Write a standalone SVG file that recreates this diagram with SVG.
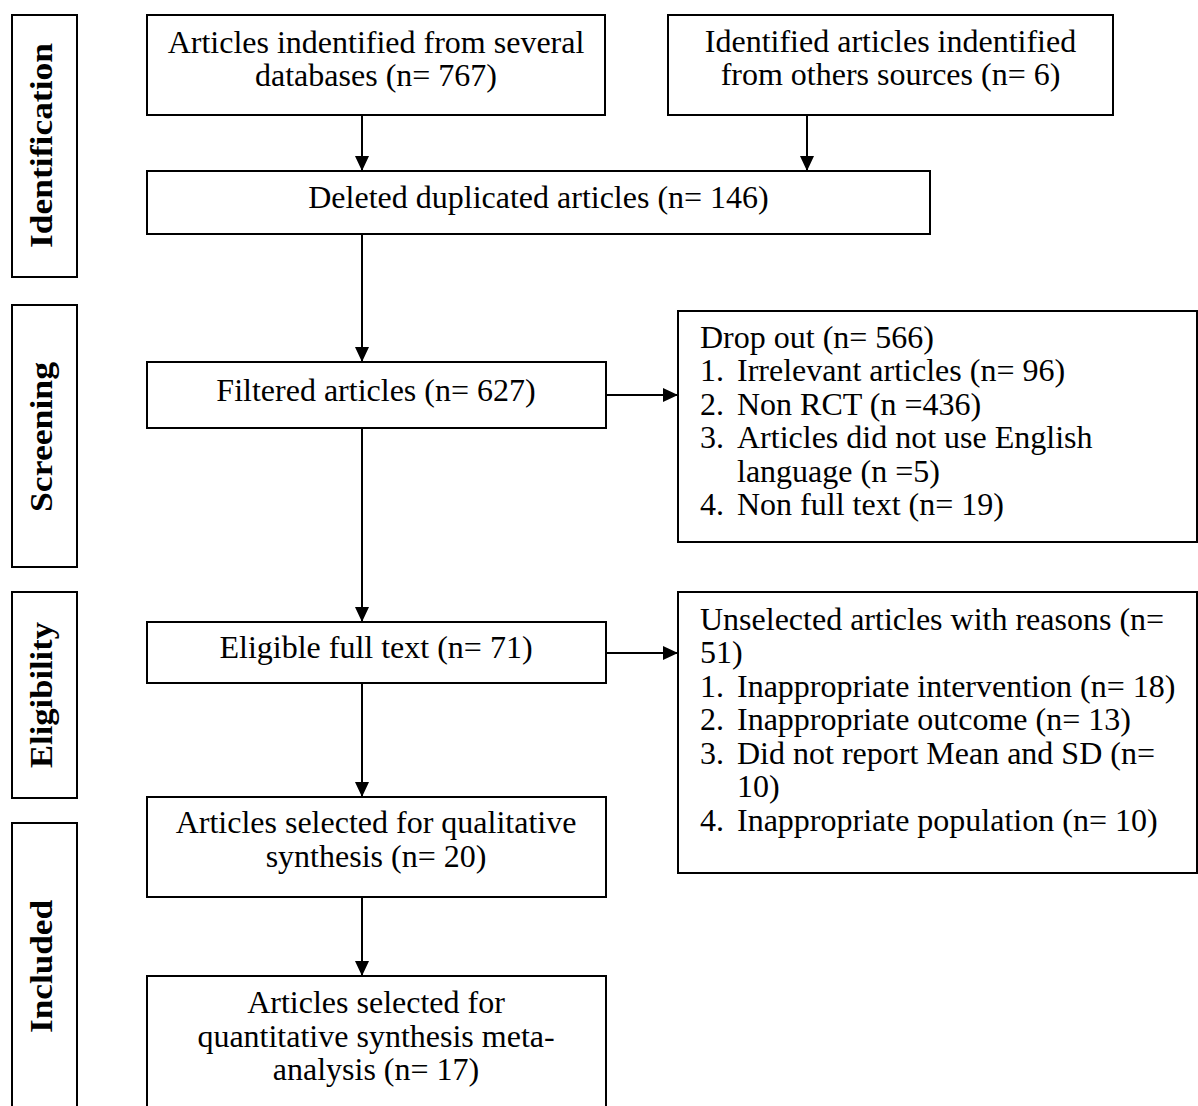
<svg xmlns="http://www.w3.org/2000/svg" width="1198" height="1106" viewBox="0 0 1198 1106">
<style>
.box{fill:#fff;stroke:#000;stroke-width:2}
.t{font-family:"Liberation Serif","Times New Roman",serif;font-size:32px;fill:#000}
.c{text-anchor:middle}
.lbl{font-family:"Liberation Serif","Times New Roman",serif;font-size:32px;font-weight:bold;fill:#000;text-anchor:middle}
.con{stroke:#000;stroke-width:2;fill:none;marker-end:url(#ah)}
</style>
<defs>
<marker id="ah" markerUnits="userSpaceOnUse" markerWidth="15" markerHeight="14" refX="15" refY="7" orient="auto">
<path d="M0,0 L15,7 L0,14 Z" fill="#000"/>
</marker>
</defs>
<rect width="1198" height="1106" fill="#fff"/>

<g id="stage-identification">
<rect class="box" x="12" y="15" width="65" height="262"/>
<text class="lbl" transform="translate(52,145.5) rotate(-90)" textLength="205" lengthAdjust="spacingAndGlyphs">Identification</text>
</g>
<g id="stage-screening">
<rect class="box" x="12" y="305" width="65" height="262"/>
<text class="lbl" transform="translate(52,437) rotate(-90)" textLength="150" lengthAdjust="spacingAndGlyphs">Screening</text>
</g>
<g id="stage-eligibility">
<rect class="box" x="12" y="592" width="65" height="206"/>
<text class="lbl" transform="translate(52,695) rotate(-90)" textLength="146" lengthAdjust="spacingAndGlyphs">Eligibility</text>
</g>
<g id="stage-included">
<rect class="box" x="12" y="823" width="65" height="300"/>
<text class="lbl" transform="translate(52,966.5) rotate(-90)" textLength="133" lengthAdjust="spacingAndGlyphs">Included</text>
</g>

<g id="n-databases">
<rect class="box" x="147" y="15" width="458" height="100"/>
<text class="t c" x="376" y="53">Articles indentified from several</text>
<text class="t c" x="376" y="86">databases (n= 767)</text>
</g>
<g id="n-others">
<rect class="box" x="668" y="15" width="445" height="100"/>
<text class="t c" x="890.5" y="52">Identified articles indentified</text>
<text class="t c" x="890.5" y="85">from others sources (n= 6)</text>
</g>
<g id="n-deleted">
<rect class="box" x="147" y="171" width="783" height="63"/>
<text class="t c" x="538.5" y="208">Deleted duplicated articles (n= 146)</text>
</g>
<g id="n-filtered">
<rect class="box" x="147" y="362" width="459" height="66"/>
<text class="t c" x="376" y="401">Filtered articles (n= 627)</text>
</g>
<g id="n-dropout">
<rect class="box" x="678" y="311" width="519" height="231"/>
<text class="t" x="700" y="348">Drop out (n= 566)</text>
<text class="t" x="700" y="381">1.</text><text class="t" x="737" y="381">Irrelevant articles (n= 96)</text>
<text class="t" x="700" y="415">2.</text><text class="t" x="737" y="415">Non RCT (n =436)</text>
<text class="t" x="700" y="448">3.</text><text class="t" x="737" y="448">Articles did not use English</text>
<text class="t" x="737" y="482">language (n =5)</text>
<text class="t" x="700" y="515">4.</text><text class="t" x="737" y="515">Non full text (n= 19)</text>
</g>
<g id="n-eligible">
<rect class="box" x="147" y="622" width="459" height="61"/>
<text class="t c" x="376" y="658">Eligible full text (n= 71)</text>
</g>
<g id="n-unselected">
<rect class="box" x="678" y="592" width="519" height="281"/>
<text class="t" x="700" y="630">Unselected articles with reasons (n=</text>
<text class="t" x="700" y="663">51)</text>
<text class="t" x="700" y="697">1.</text><text class="t" x="737" y="697">Inappropriate intervention (n= 18)</text>
<text class="t" x="700" y="730">2.</text><text class="t" x="737" y="730">Inappropriate outcome (n= 13)</text>
<text class="t" x="700" y="764">3.</text><text class="t" x="737" y="764">Did not report Mean and SD (n=</text>
<text class="t" x="737" y="797">10)</text>
<text class="t" x="700" y="831">4.</text><text class="t" x="737" y="831">Inappropriate population (n= 10)</text>
</g>
<g id="n-qualitative">
<rect class="box" x="147" y="797" width="459" height="100"/>
<text class="t c" x="376" y="833">Articles selected for qualitative</text>
<text class="t c" x="376" y="867">synthesis (n= 20)</text>
</g>
<g id="n-quantitative">
<rect class="box" x="147" y="976" width="459" height="150"/>
<text class="t c" x="376" y="1013">Articles selected for</text>
<text class="t c" x="376" y="1047">quantitative synthesis meta-</text>
<text class="t c" x="376" y="1080">analysis (n= 17)</text>
</g>

<g id="connectors">
<line class="con" x1="362" y1="115" x2="362" y2="171"/>
<line class="con" x1="807" y1="115" x2="807" y2="171"/>
<line class="con" x1="362" y1="234" x2="362" y2="362"/>
<line class="con" x1="606" y1="395" x2="678" y2="395"/>
<line class="con" x1="362" y1="428" x2="362" y2="622"/>
<line class="con" x1="606" y1="653" x2="678" y2="653"/>
<line class="con" x1="362" y1="683" x2="362" y2="797"/>
<line class="con" x1="362" y1="897" x2="362" y2="976"/>
</g>
</svg>
